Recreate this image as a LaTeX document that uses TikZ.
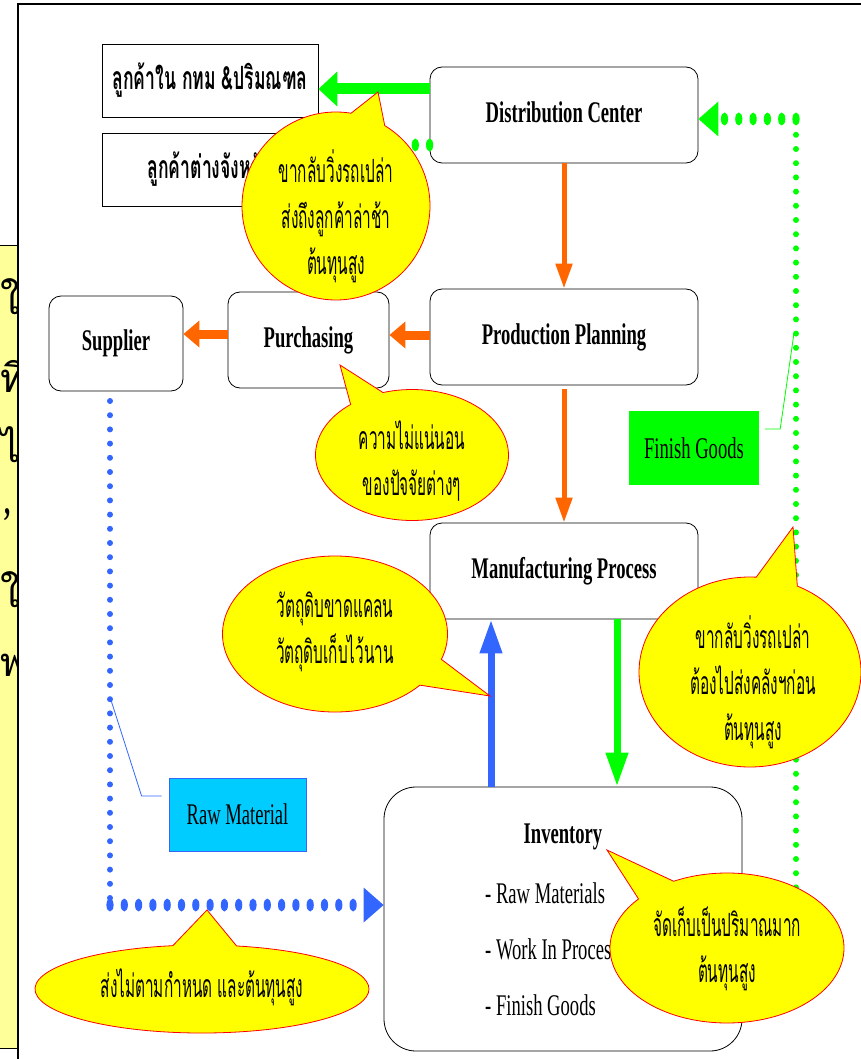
\documentclass[tikz,border=0pt]{standalone}
\usepackage{fontspec}
\setmainfont{Liberation Serif}[FakeStretch=0.62]
\newfontfamily\thaifont[Script=Thai,FakeStretch=0.48]{Loma}
\newfontfamily\thaibox[Script=Thai,FakeStretch=0.55]{Loma}
\newfontfamily\thaiwide[Script=Thai]{Loma}
\usetikzlibrary{arrows.meta,shapes.callouts,decorations.markings}
\definecolor{orng}{HTML}{FF6600}
\definecolor{grn}{HTML}{00FF00}
\definecolor{blu}{HTML}{3366FF}
\definecolor{cyn}{HTML}{00CCFF}
\definecolor{ylw}{HTML}{FFFF00}
\definecolor{panel}{HTML}{FFFF99}
\tikzset{
  box/.style={draw=black, line width=0.8pt, rounded corners=12pt, fill=white, inner sep=0pt, font=\fontsize{30}{36}\selectfont\bfseries},
  sqbox/.style={draw=black, line width=0.8pt, fill=white, inner sep=0pt, font=\thaibox\fontsize{32}{36}\selectfont\bfseries},
  tag/.style={inner sep=0pt, font=\fontsize{30}{36}\selectfont},
  bubble/.style={ellipse callout, draw=red, fill=ylw, line width=0.8pt, inner sep=0pt, callout pointer arc=22},
  bubtext/.style={inner sep=0pt, align=center, font=\thaifont\fontsize{32}{46}\selectfont},
  orangev/.style={draw=orng, line width=5pt, -{Triangle[length=25pt,width=16pt]}},
  orangeh/.style={draw=orng, line width=9pt, -{Triangle[length=16pt,width=26pt]}},
  greenbig/.style={draw=grn, line width=11pt, -{Triangle[length=19pt,width=34pt]}},
  fatv/.style={draw=#1, line width=7pt, -{Triangle[length=34pt,width=21pt]}},
  smalldots/.style={draw=#1, line width=6pt, dash pattern=on 0pt off 14.2pt, line cap=round},
  bigdots/.style={postaction={decorate}, decoration={markings,
     mark=between positions 0 and -22pt step 14.3pt with {\fill[#1] (0,0) ellipse [x radius=3.6pt, y radius=6.5pt];},
     mark=at position 1 with {\fill[#1] (0,0) -- (-20pt,17.5pt) -- (-20pt,-17.5pt) -- cycle;}}},
  leader/.style={draw=#1, line width=0.8pt}
}
\begin{document}
\begin{tikzpicture}[x=1pt,y=-1pt]
\useasboundingbox (0,0) rectangle (861,1059);
% left panel of the neighbouring slide
\fill[panel] (0,245) rectangle (18,1048);
\draw[line width=0.8pt] (0,245) -- (18,245) (0,1048) -- (18,1048);
\begin{scope}
\clip (0,245) rectangle (18,1048);
\node[anchor=west, inner sep=0pt, font=\thaiwide\fontsize{40}{40}\selectfont] (g1) at (0,297) {ใ};
\node[anchor=west, inner sep=0pt, font=\thaiwide\fontsize{40}{40}\selectfont] (g2) at (0,372) {ที่};
\node[anchor=west, inner sep=0pt, font=\thaiwide\fontsize{40}{40}\selectfont] (g3) at (0,445) {ไ};
\node[anchor=west, inner sep=0pt, font=\bfseries\fontsize{40}{40}\selectfont] (g4) at (4,515) {,};
\node[anchor=west, inner sep=0pt, font=\thaiwide\fontsize{40}{40}\selectfont] (g5) at (0,590) {ใ};
\node[anchor=west, inner sep=0pt, font=\thaiwide\fontsize{40}{40}\selectfont] (g6) at (0,665) {พ};
\end{scope}
% frame
\draw[line width=2pt] (18,1059) -- (18,4) -- (861,4);

% boxes
\node[sqbox, minimum width=216pt, minimum height=73pt] (cust1) at (210,80.5) {\raisebox{-5pt}{ลูกค้าใน กทม \&ปริมณฑล}};
\node[sqbox, minimum width=216pt, minimum height=73pt] (cust2) at (210,169.5) {\raisebox{-5pt}{ลูกค้าต่างจังหวัด}};
\node[box, minimum width=268pt, minimum height=96pt] (dc) at (564,115) {\raisebox{6pt}{Distribution Center}};
\node[box, minimum width=268pt, minimum height=96pt] (pp) at (564,337) {\raisebox{5pt}{Production Planning}};
\node[box, minimum width=161pt, minimum height=96pt] (pur) at (308.5,340) {\raisebox{5pt}{Purchasing}};
\node[box, minimum width=134pt, minimum height=95pt] (sup) at (116,343.5) {\raisebox{5pt}{Supplier}};
\node[box, minimum width=268pt, minimum height=96pt] (mp) at (564,571) {\raisebox{6pt}{Manufacturing Process}};
\node[box, rounded corners=32pt, minimum width=358pt, minimum height=264pt] (inv) at (563,919) {};
\node[tag, font=\fontsize{30}{36}\selectfont\bfseries] (invt) at (563,837) {Inventory};
\node[tag, anchor=west] (inv1) at (485,893) {- Raw Materials};
\node[tag, anchor=west] (inv2) at (485,949) {- Work In Process};
\node[tag, anchor=west] (inv3) at (485,1005) {- Finish Goods};
\node[tag, fill=grn, minimum width=130pt, minimum height=74pt] (fg) at (694,448) {Finish Goods};
\node[tag, fill=cyn, draw=blu, line width=0.8pt, minimum width=137pt, minimum height=73pt] (rm) at (237.5,814.5) {Raw Material};

% solid arrows
\coordinate (g1a) at ([yshift=26pt]dc.west);
\coordinate (g1b) at (g1a -| cust1.east);
\draw[greenbig] (g1a) -- (g1b);
\draw[orangev] (dc.south) -- (pp.north);
\coordinate (o1a) at ([yshift=2pt]pp.west);
\coordinate (o1b) at (o1a -| pur.east);
\draw[orangeh] (o1a) -- (o1b);
\coordinate (o2a) at ([yshift=6pt]pur.west);
\coordinate (o2b) at (o2a -| sup.east);
\draw[orangeh] (o2a) -- (o2b);
\draw[orangev] ([yshift=-4pt]pp.south) -- (mp.north);
\coordinate (bu1) at ([xshift=-72pt]inv.north);
\coordinate (bu2) at (bu1 |- mp.south);
\draw[fatv=blu] (bu1) -- (bu2);
\coordinate (gd1) at ([xshift=53pt]mp.south);
\coordinate (gd2) at (gd1 |- inv.north);
\draw[fatv=grn] (gd1) -- (gd2);

% dotted flows
\coordinate (gc1) at ([yshift=-30pt]dc.west);
\coordinate (gc2) at (gc1 -| cust2.east);
\path[bigdots=grn] (gc1) -- (gc2);
\coordinate (bstart) at (110,401);
\coordinate (bcorner) at (110,905);
\coordinate (bend) at (bcorner -| inv.west);
\draw[smalldots=blu] (bstart) -- (bcorner);
\path[bigdots=blu] (bcorner) -- (bend);
\coordinate (gstart) at (796,930);
\coordinate (gcorner) at (796,119);
\coordinate (gend) at (gcorner -| dc.east);
\draw[smalldots=grn] (gstart) -- (gcorner);
\path[bigdots=grn] (gcorner) -- (gend);

% leaders
\coordinate (fgl) at (794,333);
\draw[leader=grn] ([xshift=6pt,yshift=19pt]fg.east) -- ++(15,0) -- (fgl);
\coordinate (rml) at (110,697);
\draw[leader=blu] ([xshift=-7pt,yshift=18.5pt]rm.west) -- ++(-20,0) -- (rml);

% callouts
\coordinate (tipA) at (378,92);
\node[bubble, minimum width=188pt, minimum height=188pt, callout absolute pointer={(tipA)}] (bubA) at (336,206) {};
\node[bubtext] (txA) at (336,216) {ขากลับวิ่งรถเปล่า\\ส่งถึงลูกค้าล่าช้า\\ต้นทุนสูง};
\coordinate (tipB) at (340,365);
\node[bubble, minimum width=193pt, minimum height=131pt, callout absolute pointer={(tipB)}] (bubB) at (412,455) {};
\node[bubtext] (txB) at (412,461) {ความไม่แน่นอน\\ของปัจจัยต่างๆ};
\coordinate (tipC) at (490,696);
\node[bubble, minimum width=225pt, minimum height=156pt, callout absolute pointer={(tipC)}] (bubC) at (335,634) {};
\node[bubtext] (txC) at (335,632) {วัตถุดิบขาดแคลน\\วัตถุดิบเก็บไว้นาน};
\coordinate (tipD) at (793,527);
\node[bubble, minimum width=222pt, minimum height=190pt, callout absolute pointer={(tipD)}] (bubD) at (750,672) {};
\node[bubtext] (txD) at (753,682) {ขากลับวิ่งรถเปล่า\\ต้องไปส่งคลังฯก่อน\\ต้นทุนสูง};
\coordinate (tipE) at (607,850);
\node[bubble, minimum width=234pt, minimum height=150pt, callout absolute pointer={(tipE)}] (bubE) at (727,948) {};
\node[bubtext] (txE) at (727,949) {จัดเก็บเป็นปริมาณมาก\\ต้นทุนสูง};
\coordinate (tipF) at (207,910);
\node[bubble, minimum width=334pt, minimum height=88pt, callout absolute pointer={(tipF)}] (bubF) at (202,989) {};
\node[bubtext] (txF) at (202,987) {ส่งไม่ตามกำหนด และต้นทุนสูง};
\end{tikzpicture}
\end{document}
